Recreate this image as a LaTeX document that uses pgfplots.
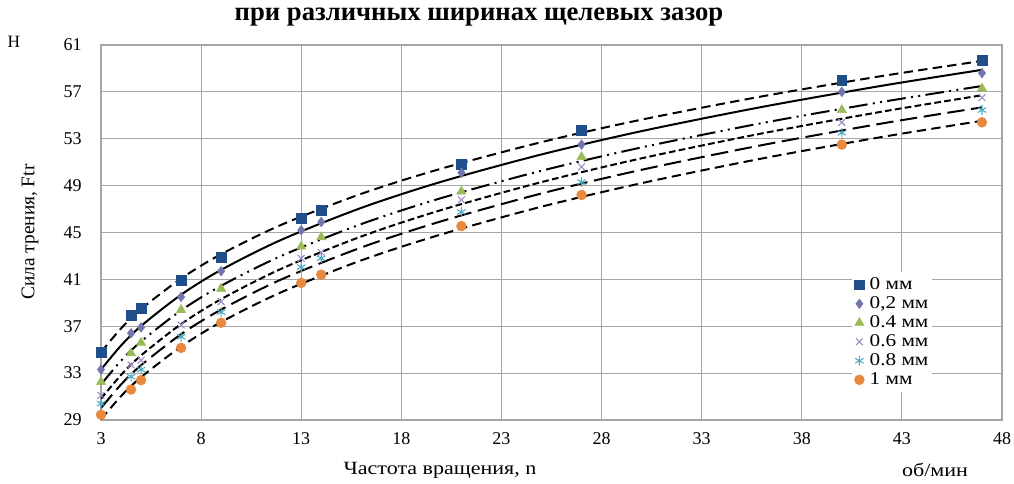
\documentclass[border=0pt]{standalone}
\usepackage{fontspec}
\setmainfont{Liberation Serif}
\usepackage{pgfplots}
\pgfplotsset{compat=1.18}
\definecolor{c0}{HTML}{1F4E89}
\definecolor{c1}{HTML}{7177AE}
\definecolor{c2}{HTML}{9BBB59}
\definecolor{c3}{HTML}{9F8CC0}
\definecolor{c4}{HTML}{4BACC6}
\definecolor{c5}{HTML}{E8893F}
\definecolor{gridc}{HTML}{A6A6A6}
\newcommand{\widen}[1]{\scalebox{1.18}[1]{#1}}
\begin{document}
\begin{tikzpicture}[x=1pt,y=1pt]
\useasboundingbox (0,0) rectangle (760.5,363);
\begin{axis}[
  at={(75.75pt,48pt)}, anchor=south west,
  scale only axis, width=675.75pt, height=281.25pt,
  xmin=3, xmax=48, ymin=29, ymax=61,
  xtick={3,8,...,48}, ytick={29,33,...,61},
  grid=major, major grid style={draw=gridc, line width=0.9pt},
  axis line style={draw=gridc, line width=0.9pt},
  major tick length=0pt,
  tick label style={font=\fontsize{13.5}{14}\selectfont},
  /pgf/number format/assume math mode=true,
  xticklabel style={yshift=-6pt},
  yticklabel style={xshift=-11pt},
  legend style={at={(0.833,0.395)}, anchor=north west, draw=none, fill=white,
    font=\fontsize{13.5}{14}\selectfont, row sep=-0.75pt, inner sep=2pt,
    nodes={inner sep=1pt, text height=10pt, text depth=3pt},
    /tikz/every odd column/.append style={column sep=3pt}},
  legend cell align=left,
  legend image code/.code={\draw[mark repeat=2,mark phase=2,#1] plot coordinates {(0pt,0pt)(4.5pt,0pt)(9pt,0pt)};},
]
% data markers
\addplot[only marks, mark=square*, mark size=3.7pt, color=c0] coordinates {(3,34.8)(4.5,37.95)(5,38.55)(7,40.95)(9,42.9)(13,46.2)(14,46.9)(21,50.8)(27,53.75)(40,58.0)(47,59.7)};
\addlegendentry{\widen{0 мм}}
\addplot[only marks, mark=diamond*, mark size=3.6pt, color=c1] coordinates {(3,33.3)(4.5,36.4)(5,36.9)(7,39.5)(9,41.7)(13,45.2)(14,45.9)(21,50.1)(27,52.5)(40,57.0)(47,58.6)};
\addlegendentry{\widen{0,2 мм}}
\addplot[only marks, mark=triangle*, mark size=4pt, color=c2] coordinates {(3,32.25)(4.5,34.7)(5,35.6)(7,38.4)(9,40.2)(13,43.8)(14,44.6)(21,48.5)(27,51.45)(40,55.45)(47,57.3)};
\addlegendentry{\widen{0.4 мм}}
\addplot[only marks, mark=x, mark size=3.6pt, color=c3, mark options={line width=0.8pt}] coordinates {(3,31.1)(4.5,33.7)(5,34.1)(7,37.1)(9,39.1)(13,42.8)(14,43.3)(21,47.8)(27,50.6)(40,54.4)(47,56.5)};
\addlegendentry{\widen{0.6 мм}}
\addplot[only marks, mark=asterisk, mark size=3.6pt, color=c4, mark options={line width=0.8pt}] coordinates {(3,30.4)(4.5,32.7)(5,33.3)(7,36.1)(9,38.2)(13,42.05)(14,42.8)(21,46.75)(27,49.3)(40,53.5)(47,55.45)};
\addlegendentry{\widen{0.8 мм}}
\addplot[only marks, mark=*, mark size=3.7pt, color=c5] coordinates {(3,29.45)(4.5,31.6)(5,32.4)(7,35.15)(9,37.3)(13,40.7)(14,41.4)(21,45.55)(27,48.2)(40,52.5)(47,54.4)};
\addlegendentry{\widen{1 мм}}
% trend lines
\addplot[forget plot, black, line width=1.5pt, smooth, no marks, dash pattern=on 7pt off 4pt] coordinates {(3,34.79)(4,36.81)(5,38.46)(7,41.07)(9,43.15)(12,45.65)(16,48.30)(20,50.45)(25,52.71)(30,54.63)(36,56.61)(42,58.35)(47,59.64)};
\addplot[forget plot, black, line width=1.5pt, smooth, no marks] coordinates {(3,33.30)(4,35.35)(5,37.02)(7,39.69)(9,41.81)(12,44.37)(16,47.10)(20,49.33)(25,51.66)(30,53.65)(36,55.71)(42,57.52)(47,58.88)};
\addplot[forget plot, black, line width=1.5pt, smooth, no marks, dash pattern=on 14pt off 4pt on 1.5pt off 4pt on 1.5pt off 4pt] coordinates {(3,32.03)(4,34.05)(5,35.70)(7,38.35)(9,40.45)(12,43.00)(16,45.72)(20,47.94)(25,50.27)(30,52.26)(36,54.33)(42,56.14)(47,57.50)};
\addplot[forget plot, black, line width=1.5pt, smooth, no marks, dash pattern=on 5pt off 2.5pt] coordinates {(3,30.81)(4,32.84)(5,34.51)(7,37.18)(9,39.31)(12,41.90)(16,44.66)(20,46.92)(25,49.30)(30,51.33)(36,53.45)(42,55.31)(47,56.71)};
\addplot[forget plot, black, line width=1.5pt, smooth, no marks, dash pattern=on 13pt off 5pt] coordinates {(3,30.02)(4,32.03)(5,33.67)(7,36.32)(9,38.42)(12,40.99)(16,43.72)(20,45.96)(25,48.33)(30,50.35)(36,52.45)(42,54.30)(47,55.68)};
\addplot[forget plot, black, line width=1.5pt, smooth, no marks, dash pattern=on 7pt off 4pt] coordinates {(3,29.05)(4,31.03)(5,32.65)(7,35.26)(9,37.36)(12,39.90)(16,42.62)(20,44.84)(25,47.20)(30,49.21)(36,51.31)(42,53.15)(47,54.53)};
\end{axis}
\node[anchor=base, font=\fontsize{20}{22}\selectfont\bfseries] at (359.25,347.5) {при различных ширинах щелевых зазор};
\node[font=\fontsize{13}{14}\selectfont] at (10.5,331.5) {Н};
\node[rotate=90, font=\fontsize{14.5}{16}\selectfont] at (22.5,189) {Сила трения, Ftr};
\node[font=\fontsize{14}{16}\selectfont] at (330,10.5) {\widen{Частота вращения, n}};
\node[font=\fontsize{14}{16}\selectfont] at (701.25,10.5) {\widen{об/мин}};
\end{tikzpicture}
\end{document}
